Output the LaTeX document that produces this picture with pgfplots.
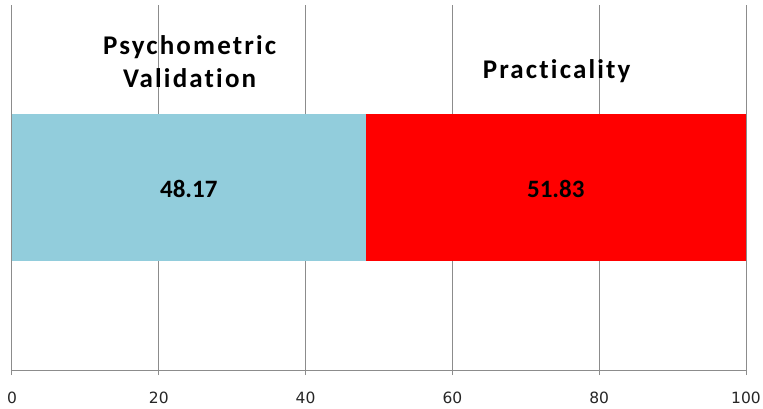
\documentclass[border=0pt]{standalone}
\usepackage{pgfplots}
\pgfplotsset{compat=1.18}
\usepackage{fontspec}
\setmainfont{Carlito}
\newfontfamily\widefont[LetterSpace=8, Ligatures=NoCommon]{Carlito}
\newfontfamily\tickfont{DejaVu Sans}
\definecolor{lblue}{HTML}{92CDDC}
\definecolor{gridc}{HTML}{8C8C8C}
\begin{document}
\begin{tikzpicture}
\path[use as bounding box] (-12pt,-38pt) rectangle (751pt,370pt);
\begin{axis}[
  scale only axis,
  width=734pt, height=365pt,
  xmin=0, xmax=100, ymin=0, ymax=1,
  xbar stacked,
  bar width=147pt,
  axis x line=bottom,
  axis y line=none,
  axis line style={gridc, line width=1pt, -},
  xtick={0,20,40,60,80,100},
  ytick=\empty,
  xmajorgrids,
  grid style={gridc, line width=1pt},
  tick align=outside,
  major tick length=5pt,
  tick style={gridc, line width=1pt},
  xticklabel style={font=\tickfont\fontsize{15.5}{18}\selectfont, text=black!85, yshift=-13pt},
  /pgf/number format/assume math mode=true,
  clip=false,
]
\addplot[fill=lblue, draw=none] coordinates {(48.17,0.5)};
\addplot[fill=red, draw=none] coordinates {(51.83,0.5)};
\end{axis}
\begin{axis}[
  scale only axis,
  width=734pt, height=365pt,
  xmin=0, xmax=100, ymin=0, ymax=1,
  hide axis,
  clip=false,
]
\addplot[only marks, mark=none, nodes near coords, point meta=explicit symbolic,
  every node near coord/.style={anchor=center, font=\bfseries\fontsize{25}{30}\selectfont, text=black}]
  coordinates {(24.085,0.497)[48.17] (74.085,0.497)[51.83]};
\node[align=center, font=\widefont\bfseries\fontsize{27}{33}\selectfont] at (axis cs:24.2,0.844) {Psychometric\\Validation};
\node[align=center, font=\widefont\bfseries\fontsize{27}{33}\selectfont] at (axis cs:74.2,0.818) {Practicality};
\end{axis}
\end{tikzpicture}
\end{document}
